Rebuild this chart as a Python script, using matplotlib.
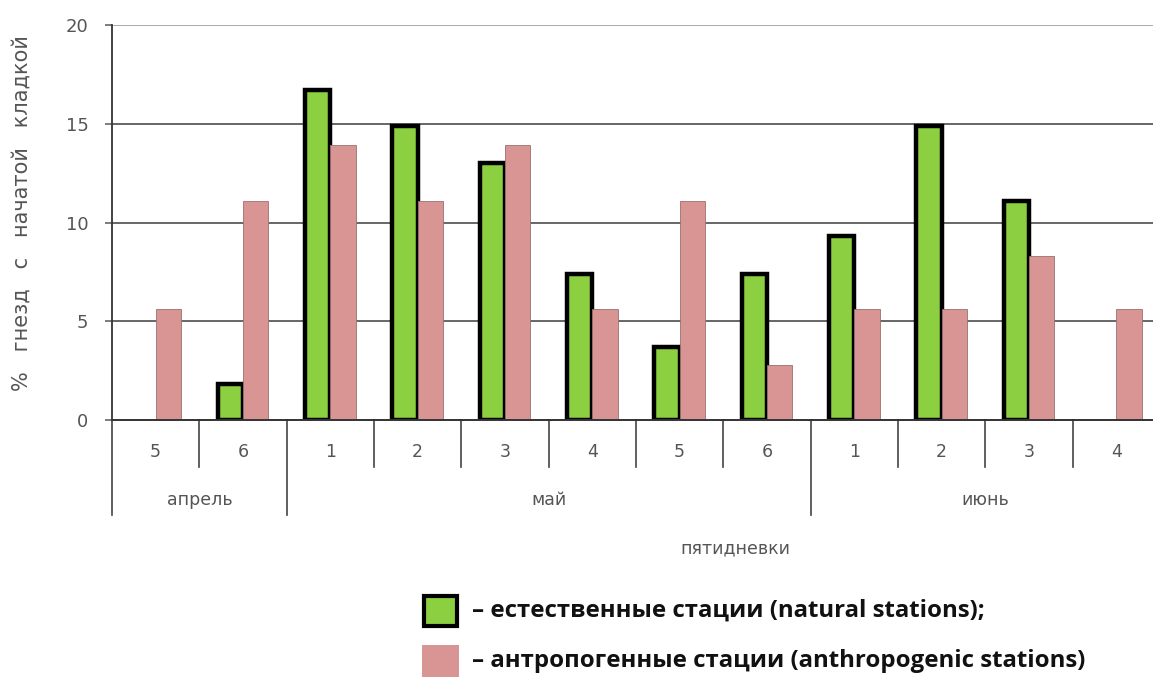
import matplotlib
matplotlib.use("Agg")
import matplotlib.pyplot as plt
import numpy as np
from matplotlib.patches import Rectangle

plt.rcParams["font.family"] = ["DejaVu Sans"]

pentads = ["5", "6", "1", "2", "3", "4", "5", "6", "1", "2", "3", "4"]
months = ["апрель", "май", "июнь"]
month_spans = [(0, 2), (2, 8), (8, 12)]
natural = [0, 1.8, 16.7, 14.9, 13.0, 7.4, 3.7, 7.4, 9.3, 14.9, 11.1, 0]
anthropogenic = [5.6, 11.1, 13.9, 11.1, 13.9, 5.6, 11.1, 2.8, 5.6, 5.6, 8.3, 5.6]
yticks = [0, 5, 10, 15, 20]
ylabel = "%   гнезд   с   начатой   кладкой"
xlabel = "пятидневки"
legend_labels = ["– естественные стации (natural stations);",
                 "– антропогенные стации (anthropogenic stations)"]

GREEN = "#8CCF40"
PINK = "#D99594"
TXT = "#555555"

W, H = 1153, 677
fig = plt.figure(figsize=(W / 100, H / 100), dpi=100)
ax = fig.add_axes([112 / W, (H - 420) / H, (1160 - 112) / W, (420 - 25) / H])

n = len(pentads)
x = np.arange(n) + 0.5
bw = 0.29
lw_g = [3.2 if v > 0 else 0 for v in natural]
ax.bar(x - bw / 2, natural, width=bw, color=GREEN, edgecolor="black",
       linewidth=lw_g, zorder=3)
ax.bar(x + bw / 2, anthropogenic, width=bw, color=PINK, edgecolor="#9a7070",
       linewidth=0.6, zorder=3)

ax.set_xlim(0, n)
ax.set_ylim(0, 20)
ax.set_yticks(yticks)
ax.set_yticklabels([str(t) for t in yticks], fontsize=13, color=TXT)
ax.tick_params(axis="y", length=5, width=1.2, color="#666666", pad=12)
ax.set_xticks([])
for s in ["top", "right", "bottom"]:
    ax.spines[s].set_visible(False)
ax.spines["left"].set_color("#333333")
ax.spines["left"].set_linewidth(1.3)
for t in yticks[1:]:
    ax.axhline(t, color="#aaaaaa" if t == 20 else "#666666", lw=1.4, zorder=1)
ax.axhline(0, color="#333333", lw=1.4, zorder=4, clip_on=False)

# category separators and labels
ypx = 20 / 395.0  # data units per pixel
for i in range(1, n):
    bound = i in [s[0] for s in month_spans]
    ax.plot([i, i], [0, -(95 if bound else 47) * ypx], color="#444444",
            lw=1.2, clip_on=False)
ax.plot([0, 0], [0, -95 * ypx], color="#444444", lw=1.2, clip_on=False)
for xi, lab in zip(x, pentads):
    ax.text(xi, -32 * ypx, lab, ha="center", va="center", fontsize=12.5,
            color=TXT)
for (a, b), m in zip(month_spans, months):
    ax.text((a + b) / 2, -80 * ypx, m, ha="center", va="center", fontsize=12.5,
            color=TXT)
fig.text(735 / W, 1 - 548 / H, xlabel, ha="center", va="center", fontsize=12.5,
         color=TXT)
fig.text(22 / W, 1 - 213 / H, ylabel, ha="center", va="center", rotation=90,
         fontsize=15, color=TXT)

# legend
fig.patches.append(Rectangle((424 / W, 1 - 626 / H), 33 / W, 30 / H,
                             transform=fig.transFigure, facecolor=GREEN,
                             edgecolor="black", linewidth=3.0))
fig.patches.append(Rectangle((422 / W, 1 - 677 / H), 37 / W, 32 / H,
                             transform=fig.transFigure, facecolor=PINK,
                             edgecolor="none"))
for lab, yy in zip(legend_labels, [611, 661]):
    fig.text(472 / W, 1 - yy / H, lab, ha="left", va="center",
             fontsize=17.3, fontweight="bold", color="#111111",
             family=["Open Sans", "DejaVu Sans"])

fig.savefig("out.png", dpi=100)
